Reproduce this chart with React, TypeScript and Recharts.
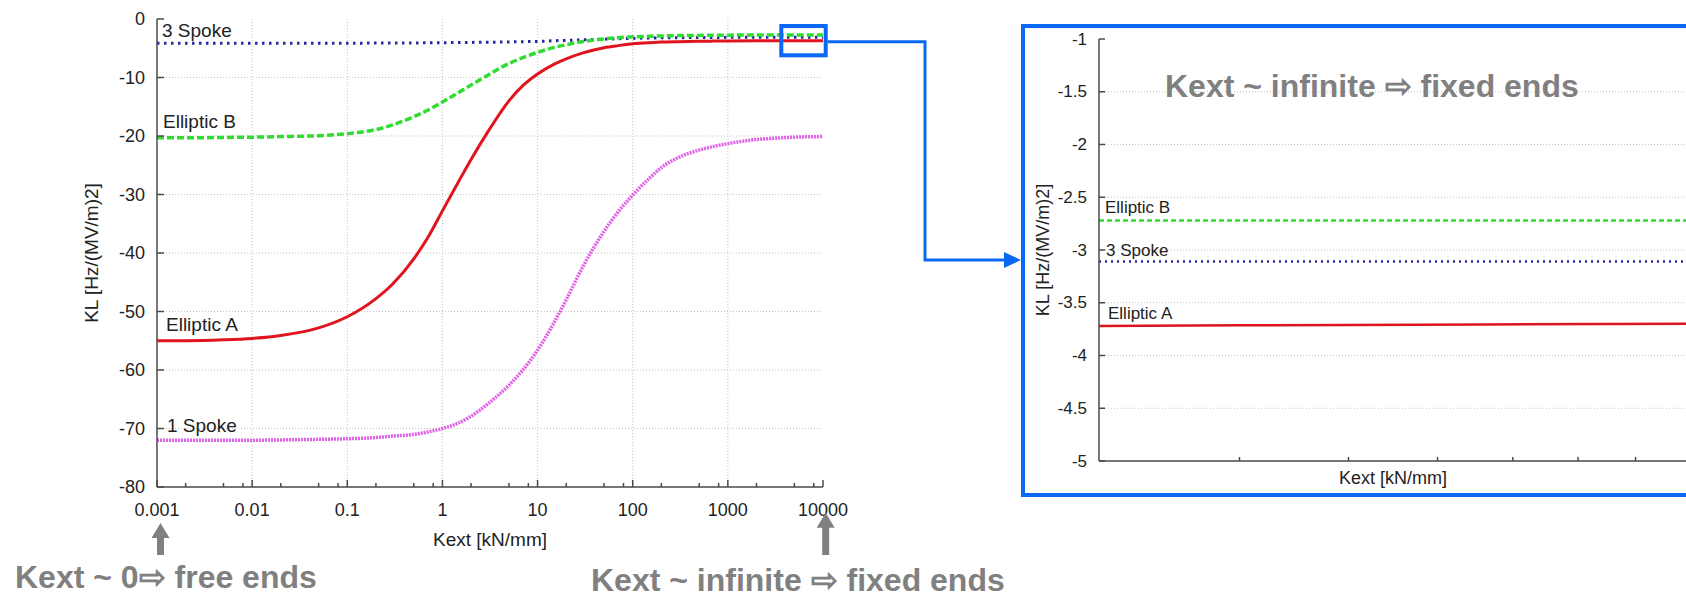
import React from "react";
import { LineChart, Line, XAxis, YAxis, CartesianGrid, ReferenceDot } from "recharts";

// Kext samples [kN/mm] and KL values [Hz/(MV/m)^2]
const kext = [0.001, 0.002, 0.005, 0.01, 0.02, 0.05, 0.1, 0.2, 0.3, 0.5, 0.7, 1, 1.5, 2, 3, 5, 7, 10, 15, 20, 30, 50, 70, 100, 150, 200, 300, 500, 700, 1000, 2000, 3000, 5000, 10000];
const ellipticA = [-55.0, -55.0, -54.85, -54.6, -54.1, -52.8, -50.9, -47.8, -45.3, -41.0, -37.4, -32.8, -27.6, -24.0, -19.3, -14.0, -11.4, -9.4, -7.7, -6.8, -5.8, -4.9, -4.55, -4.25, -4.05, -3.95, -3.87, -3.8, -3.78, -3.76, -3.73, -3.72, -3.71, -3.7];
const ellipticB = [-20.3, -20.3, -20.25, -20.2, -20.1, -19.95, -19.6, -18.9, -18.1, -16.7, -15.6, -14.2, -12.5, -11.3, -9.6, -7.6, -6.6, -5.7, -4.85, -4.4, -3.85, -3.4, -3.2, -3.05, -2.95, -2.9, -2.84, -2.8, -2.78, -2.76, -2.73, -2.72, -2.72, -2.72];
const spoke3 = [-4.15, -4.15, -4.15, -4.15, -4.15, -4.14, -4.13, -4.12, -4.11, -4.09, -4.07, -4.05, -4.02, -4.0, -3.97, -3.92, -3.88, -3.83, -3.72, -3.65, -3.55, -3.45, -3.37, -3.3, -3.25, -3.22, -3.19, -3.16, -3.15, -3.14, -3.12, -3.11, -3.11, -3.11];
const spoke1 = [-72.0, -72.0, -72.0, -72.0, -71.95, -71.85, -71.75, -71.55, -71.3, -71.0, -70.6, -70.0, -69.0, -67.9, -65.8, -62.6, -60.0, -56.6, -51.8, -48.0, -42.3, -36.3, -33.0, -30.1, -27.2, -25.4, -23.7, -22.4, -21.8, -21.3, -20.6, -20.4, -20.2, -20.1];

const xMajor = [0.001, 0.01, 0.1, 1, 10, 100, 1000, 10000];
const xMajorLabels = ["0.001", "0.01", "0.1", "1", "10", "100", "1000", "10000"];
const xMinorSteps = [2, 5, 8];
const xGrid = [0.01, 0.1, 1, 10, 100, 1000];
const yTicks = [0, -10, -20, -30, -40, -50, -60, -70, -80];
const yTickLabels = ["0", "-10", "-20", "-30", "-40", "-50", "-60", "-70", "-80"];
const yGrid = [-10, -20, -30, -40, -50, -60, -70];

const zoomXTicks = [4000, 5000, 6000, 7000, 8000, 9000];
const zoomYTicks = [-1, -1.5, -2, -2.5, -3, -3.5, -4, -4.5, -5];
const zoomYLabels = ["-1", "-1.5", "-2", "-2.5", "-3", "-3.5", "-4", "-4.5", "-5"];
const zoomYGrid = [-1.5, -2, -2.5, -3, -3.5, -4, -4.5];

const rows = kext.map((k, i) => ({
  k,
  ellipticA: ellipticA[i],
  ellipticB: ellipticB[i],
  spoke3: spoke3[i],
  spoke1: spoke1[i],
}));
const zoomRows = rows.filter((r) => r.k >= 3000);

const xTicks = [...xMajor, ...xMajor.slice(0, -1).flatMap((d) => xMinorSteps.map((m) => +(d * m).toPrecision(3)))].sort((a, b) => a - b);

const FONT = "'Liberation Sans', Arial, Helvetica, sans-serif";
const INK = "#222";
const AXIS = "#4a4a4a";
const GRID = "#c2c2c2";
const BLUE = "#0a68f5";
const GREY = "#808080";

const RED = "#e0141e";
const GREEN = "#2fdc2f";
const NAVY = "#2626a3";
const MAGENTA = "#e060e6";

type TickOpts = {
  side: "bottom" | "top" | "left" | "right";
  majors: number[];
  labels?: string[];
  major: number;
  minor: number;
  fontSize?: number;
  gap?: number;
};

function makeTick(o: TickOpts) {
  return (p: any) => {
    const { x, y, payload } = p;
    const v = payload.value;
    const idx = o.majors.findIndex((m) => Math.abs(m - v) <= Math.abs(m || 1) * 1e-6);
    const len = idx >= 0 ? o.major : o.minor;
    let line;
    if (o.side === "bottom") line = <line x1={x} y1={y} x2={x} y2={y - len} />;
    else if (o.side === "top") line = <line x1={x} y1={y} x2={x} y2={y + len} />;
    else if (o.side === "left") line = <line x1={x} y1={y} x2={x + len} y2={y} />;
    else line = <line x1={x} y1={y} x2={x - len} y2={y} />;
    let text = null;
    if (o.labels && idx >= 0) {
      if (o.side === "bottom")
        text = (
          <text x={x} y={y + (o.gap || 0)} textAnchor="middle" fontSize={o.fontSize} fill={INK} stroke="none" fontFamily={FONT}>
            {o.labels[idx]}
          </text>
        );
      else
        text = (
          <text x={x - (o.gap || 0)} y={y} textAnchor="end" dominantBaseline="central" fontSize={o.fontSize} fill={INK} stroke="none" fontFamily={FONT}>
            {o.labels[idx]}
          </text>
        );
    }
    return (
      <g stroke={AXIS} strokeWidth={1.5}>
        {line}
        {text}
      </g>
    );
  };
}

const yTitle = (cx: number, size: number) => (p: any) => {
  const vb = p.viewBox;
  const x = vb.x + cx;
  const y = vb.y + vb.height / 2;
  return (
    <text x={x} y={y} transform={`rotate(-90 ${x} ${y})`} textAnchor="middle" dominantBaseline="central" fontSize={size} fill={INK} fontFamily={FONT}>
      KL [Hz/(MV/m)2]
    </text>
  );
};

const xTitle = (dy: number, size: number) => (p: any) => {
  const vb = p.viewBox;
  return (
    <text x={vb.x + vb.width / 2} y={vb.y + dy} textAnchor="middle" dominantBaseline="central" fontSize={size} fill={INK} fontFamily={FONT}>
      Kext [kN/mm]
    </text>
  );
};

const seriesLabel = (text: string, dx: number, size: number, bgWidth = 0) => (p: any) => {
  const { x, y } = p.viewBox;
  return (
    <g>
      {bgWidth > 0 && <rect x={x + 2} y={y - 14} width={bgWidth} height={24} fill="#fff" />}
      <text x={x + dx} y={y} dominantBaseline="central" fontSize={size} fill={INK} fontFamily={FONT}>
        {text}
      </text>
    </g>
  );
};

function Arrow({ x, tip, base }: { x: number; tip: number; base: number }) {
  return (
    <g fill={GREY}>
      <rect x={x - 3.5} y={tip + 14} width={7} height={base - tip - 14} />
      <polygon points={`${x - 9},${tip + 15} ${x + 9},${tip + 15} ${x},${tip}`} />
    </g>
  );
}

function MainChart() {
  return (
    <LineChart width={880} height={560} data={rows} margin={{ top: 19, right: 57, bottom: 13, left: 0 }}>
      <CartesianGrid horizontalValues={yGrid} verticalValues={xGrid} stroke={GRID} strokeDasharray="1 2" />
      <XAxis
        dataKey="k"
        type="number"
        scale="log"
        domain={[0.001, 10000]}
        allowDataOverflow
        ticks={xTicks}
        interval={0}
        height={60}
        tickSize={0}
        tickMargin={0}
        tickLine={false}
        axisLine={{ stroke: AXIS, strokeWidth: 1.5 }}
        tick={makeTick({ side: "bottom", majors: xMajor, labels: xMajorLabels, major: 7, minor: 4, fontSize: 18, gap: 29 })}
        label={xTitle(52, 19)}
      />
      <XAxis
        xAxisId="top"
        orientation="top"
        type="number"
        scale="log"
        domain={[0.001, 10000]}
        allowDataOverflow
        ticks={xTicks}
        interval={0}
        height={0}
        tickSize={0}
        tickMargin={0}
        tickLine={false}
        axisLine={{ stroke: AXIS, strokeWidth: 1.5 }}
        tick={makeTick({ side: "top", majors: xMajor, major: 7, minor: 4 })}
      />
      <YAxis
        type="number"
        domain={[-80, 0]}
        allowDataOverflow
        ticks={yTicks}
        interval={0}
        width={157}
        tickSize={0}
        tickMargin={0}
        tickLine={false}
        axisLine={{ stroke: AXIS, strokeWidth: 1.5 }}
        tick={makeTick({ side: "left", majors: yTicks, labels: yTickLabels, major: 7, minor: 4, fontSize: 18, gap: 12 })}
        label={yTitle(91, 19)}
      />
      <YAxis
        yAxisId="right"
        orientation="right"
        type="number"
        domain={[-80, 0]}
        allowDataOverflow
        ticks={yTicks}
        interval={0}
        width={0}
        tickSize={0}
        tickMargin={0}
        tickLine={false}
        axisLine={{ stroke: AXIS, strokeWidth: 1.5 }}
        tick={makeTick({ side: "right", majors: yTicks, major: 7, minor: 4 })}
      />
      <Line type="monotone" dataKey="spoke1" stroke={MAGENTA} strokeWidth={3.5} strokeDasharray="2 1" dot={false} activeDot={false} isAnimationActive={false} />
      <Line type="monotone" dataKey="ellipticA" stroke={RED} strokeWidth={3} dot={false} activeDot={false} isAnimationActive={false} />
      <Line type="monotone" dataKey="spoke3" stroke={NAVY} strokeWidth={3} strokeDasharray="2.5 4.5" dot={false} activeDot={false} isAnimationActive={false} />
      <Line type="monotone" dataKey="ellipticB" stroke={GREEN} strokeWidth={3.5} strokeDasharray="7 3" dot={false} activeDot={false} isAnimationActive={false} />
      <ReferenceDot x={0.001} y={-1.9} r={0} ifOverflow="visible" label={seriesLabel("3 Spoke", 5, 19, 80)} />
      <ReferenceDot x={0.001} y={-17.6} r={0} ifOverflow="visible" label={seriesLabel("Elliptic B", 6, 19)} />
      <ReferenceDot x={0.001} y={-52.3} r={0} ifOverflow="visible" label={seriesLabel("Elliptic A", 9, 19)} />
      <ReferenceDot x={0.001} y={-69.5} r={0} ifOverflow="visible" label={seriesLabel("1 Spoke", 10, 19)} />
    </LineChart>
  );
}

function ZoomChart() {
  return (
    <LineChart width={665} height={465} data={zoomRows} margin={{ top: 11, right: 3, bottom: 0, left: 0 }}>
      <CartesianGrid horizontalValues={zoomYGrid} vertical={false} stroke={GRID} strokeDasharray="1 2" />
      <XAxis
        dataKey="k"
        type="number"
        scale="log"
        domain={[3000, 10000]}
        allowDataOverflow
        ticks={zoomXTicks}
        interval={0}
        height={32}
        tickSize={0}
        tickMargin={0}
        tickLine={false}
        axisLine={{ stroke: AXIS, strokeWidth: 1.5 }}
        tick={makeTick({ side: "bottom", majors: [], major: 4, minor: 4 })}
        label={xTitle(17, 18)}
      />
      <XAxis
        xAxisId="top"
        orientation="top"
        type="number"
        scale="log"
        domain={[3000, 10000]}
        allowDataOverflow
        ticks={zoomXTicks}
        interval={0}
        height={0}
        tickSize={0}
        tickMargin={0}
        tickLine={false}
        axisLine={{ stroke: AXIS, strokeWidth: 1.5 }}
        tick={makeTick({ side: "top", majors: [], major: 4, minor: 4 })}
      />
      <YAxis
        type="number"
        domain={[-5, -1]}
        allowDataOverflow
        ticks={zoomYTicks}
        interval={0}
        width={74}
        tickSize={0}
        tickMargin={0}
        tickLine={false}
        axisLine={{ stroke: AXIS, strokeWidth: 1.5 }}
        tick={makeTick({ side: "left", majors: zoomYTicks, labels: zoomYLabels, major: 6, minor: 6, fontSize: 17, gap: 12 })}
        label={yTitle(18, 18)}
      />
      <YAxis
        yAxisId="right"
        orientation="right"
        type="number"
        domain={[-5, -1]}
        allowDataOverflow
        ticks={zoomYTicks}
        interval={0}
        width={0}
        tickSize={0}
        tickMargin={0}
        tickLine={false}
        axisLine={{ stroke: AXIS, strokeWidth: 1.5 }}
        tick={makeTick({ side: "right", majors: zoomYTicks, major: 6, minor: 6 })}
      />
      <Line type="monotone" dataKey="ellipticA" stroke={RED} strokeWidth={2.5} dot={false} activeDot={false} isAnimationActive={false} />
      <Line type="monotone" dataKey="spoke3" stroke={NAVY} strokeWidth={2.5} strokeDasharray="2 4" dot={false} activeDot={false} isAnimationActive={false} />
      <Line type="monotone" dataKey="ellipticB" stroke={GREEN} strokeWidth={2.5} strokeDasharray="5 3" dot={false} activeDot={false} isAnimationActive={false} />
      <ReferenceDot x={3000} y={-2.6} r={0} ifOverflow="visible" label={seriesLabel("Elliptic B", 6, 17)} />
      <ReferenceDot x={3000} y={-3.0} r={0} ifOverflow="visible" label={seriesLabel("3 Spoke", 7, 17)} />
      <ReferenceDot x={3000} y={-3.6} r={0} ifOverflow="visible" label={seriesLabel("Elliptic A", 9, 17)} />
    </LineChart>
  );
}

export default function App() {
  const big = { fontFamily: FONT, fontWeight: 700, fontSize: 32, fill: GREY } as const;
  return (
    <div style={{ position: "absolute", left: 0, top: 0, width: 1686, height: 598, overflow: "hidden", background: "#fff" }}>
      <div style={{ position: "absolute", left: 0, top: 0 }}>
        <MainChart />
      </div>
      <div
        style={{
          position: "absolute",
          left: 1021,
          top: 24,
          width: 720,
          height: 473,
          border: `4px solid ${BLUE}`,
          boxSizing: "border-box",
        }}
      />
      <div style={{ position: "absolute", left: 1025, top: 28 }}>
        <ZoomChart />
      </div>
      <svg width={1686} height={598} style={{ position: "absolute", left: 0, top: 0, pointerEvents: "none" }}>
        <rect x={781.3} y={26} width={44.4} height={29.3} fill="none" stroke={BLUE} strokeWidth={4} />
        <polyline points="827.5,41.7 925,41.7 925,260 1007,260" fill="none" stroke={BLUE} strokeWidth={3} />
        <polygon points="1004,252 1021,260 1004,268" fill={BLUE} />
        <Arrow x={160.5} tip={523} base={555} />
        <Arrow x={825.7} tip={512.7} base={555} />
        <text x={15} y={588} style={big}>
          Kext ~ 0⇨ free ends
        </text>
        <text x={591} y={591} style={big}>
          Kext ~ infinite ⇨ fixed ends
        </text>
        <text x={1165} y={97} style={big}>
          Kext ~ infinite ⇨ fixed ends
        </text>
      </svg>
    </div>
  );
}
